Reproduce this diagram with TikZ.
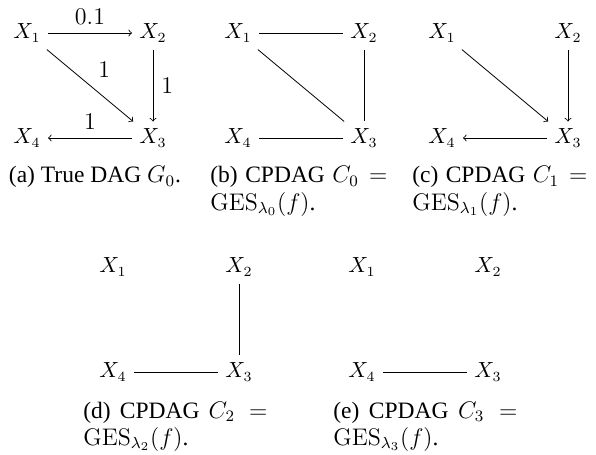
\documentclass[tikz,border=0pt]{standalone}
\usepackage[no-math]{fontspec}
\setmainfont{Liberation Serif}
\usetikzlibrary{positioning}

\begin{document}
\begin{tikzpicture}[
        x=1pt, y=1pt,
        node distance=52.5pt and 63pt, on grid,
        var/.style={font=\fontsize{10.5pt}{12pt}\selectfont, inner sep=3.5pt},
        weight/.style={font=\fontsize{12.3pt}{14pt}\selectfont, inner sep=4pt},
        link/.style={thin},
        arc/.style={->, thin},
        capfont/.style={font=\fontsize{11.75pt}{13.5pt}\selectfont},
        caption/.style={capfont, text width=#1, align=justify, inner sep=0pt, anchor=base west},
    ]
    \useasboundingbox (0,0) rectangle (298,-227.5);

    % (a) true DAG
    \node[var] (a1) at (13.5,-16.5) {$X_1$};
    \node[var, right=of a1] (a2) {$X_2$};
    \node[var, below=of a2] (a3) {$X_3$};
    \node[var, below=of a1] (a4) {$X_4$};
    \draw[arc] (a1) -- node[weight, above] {$0.1$} (a2);
    \draw[arc] (a1) -- node[weight, above right] {$1$} (a3);
    \draw[arc] (a2) -- node[weight, right] {$1$} (a3);
    \draw[arc] (a3) -- node[weight, above] {$1$} (a4);
    \node[capfont, anchor=base] (capa) at (47.5,-91.5) {(a) True DAG $G_0$.};

    % (b) C_0
    \node[var] (b1) at (119,-16.5) {$X_1$};
    \node[var, right=of b1] (b2) {$X_2$};
    \node[var, below=of b2] (b3) {$X_3$};
    \node[var, below=of b1] (b4) {$X_4$};
    \draw[link] (b1) -- (b2);
    \draw[link] (b1) -- (b3);
    \draw[link] (b2) -- (b3);
    \draw[link] (b3) -- (b4);
    \node[caption=88.5pt] (capb) at (105,-91.5)
        {(b) CPDAG $C_0 = \mathrm{GES}_{\lambda_0}(f)$.};

    % (c) C_1
    \node[var] (c1) at (221,-16.5) {$X_1$};
    \node[var, right=of c1] (c2) {$X_2$};
    \node[var, below=of c2] (c3) {$X_3$};
    \node[var, below=of c1] (c4) {$X_4$};
    \draw[arc] (c1) -- (c3);
    \draw[arc] (c2) -- (c3);
    \draw[arc] (c3) -- (c4);
    \node[caption=87.5pt] (capc) at (206,-91.5)
        {(c) CPDAG $C_1 = \mathrm{GES}_{\lambda_1}(f)$.};

    % (d) C_2
    \node[var] (d1) at (56.5,-133.5) {$X_1$};
    \node[var, right=of d1] (d2) {$X_2$};
    \node[var, below=of d2] (d3) {$X_3$};
    \node[var, below=of d1] (d4) {$X_4$};
    \draw[link] (d2) -- (d3);
    \draw[link] (d4) -- (d3);
    \node[caption=92pt] (capd) at (41.5,-209)
        {(d) CPDAG $C_2 = \mathrm{GES}_{\lambda_2}(f)$.};

    % (e) C_3
    \node[var] (e1) at (181,-133.5) {$X_1$};
    \node[var, right=of e1] (e2) {$X_2$};
    \node[var, below=of e2] (e3) {$X_3$};
    \node[var, below=of e1] (e4) {$X_4$};
    \draw[link] (e4) -- (e3);
    \node[caption=92pt] (cape) at (166.5,-209)
        {(e) CPDAG $C_3 = \mathrm{GES}_{\lambda_3}(f)$.};
\end{tikzpicture}
\end{document}
